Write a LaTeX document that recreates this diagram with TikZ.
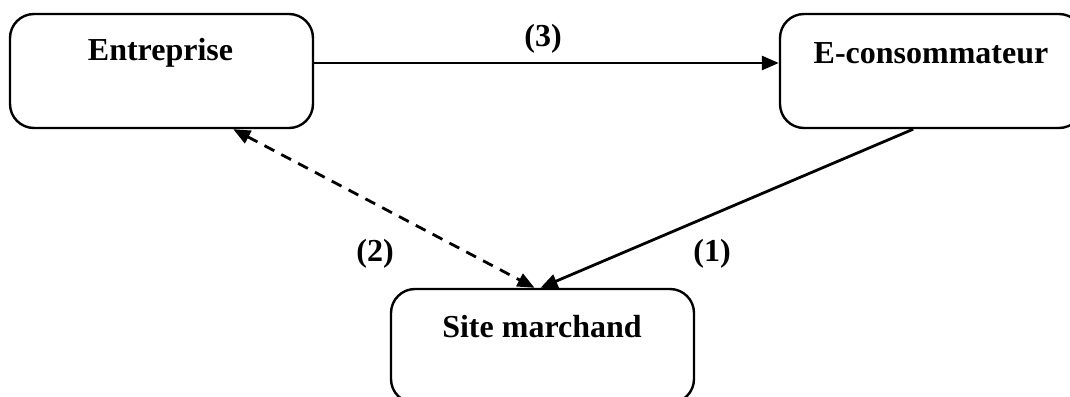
\documentclass[tikz,border=0pt]{standalone}
\usepackage{fontspec}
\setmainfont{Liberation Serif}
\usetikzlibrary{arrows.meta,calc}
\begin{document}
\begin{tikzpicture}[x=1pt,y=-1pt,
  panel/.style={draw,line width=2.4pt,rounded corners=24pt,minimum width=303pt,minimum height=114pt,inner sep=0pt},
  caption/.style={font=\fontsize{32pt}{36pt}\selectfont\bfseries,inner sep=0pt,anchor=center},
  flow/.style={line width=2.8pt,-{Triangle[length=17pt,width=14pt]}},
  tag/.style={font=\fontsize{32pt}{36pt}\selectfont\bfseries,inner sep=0pt}]
  \useasboundingbox (0,0) rectangle (1070,396);
  \clip (0,0) rectangle (1070,396);
  % boxes
  \node[panel] (ent) at (161.5,71) {};
  \node[panel] (econs) at (931.5,71) {};
  \node[panel] (site) at (542.5,346) {};
  % box titles
  \node[caption] (entT) at (160.5,53) {Entreprise};
  \node[caption] (econsT) at (931,53) {E-consommateur};
  \node[caption] (siteT) at (542,327) {Site marchand};
  % connectors
  \draw[flow] ($(ent.east)+(0,-8)$) -- ($(econs.west)+(0,-8)$);
  \draw[flow] ($(econs.south west)!0.44!(econs.south east)$) -- ($(site.north)+(-2,0)$);
  \draw[line width=2.8pt,dash pattern=on 11pt off 8pt,{Triangle[length=17pt,width=14pt]}-{Triangle[length=17pt,width=14pt]}]
    ($(ent.south west)!0.735!(ent.south east)$) -- ($(site.north)+(-8,0)$);
  % connector labels
  \node[tag] (l3) at (543,39) {(3)};
  \node[tag] (l2) at (375,254) {(2)};
  \node[tag] (l1) at (712,254) {(1)};
\end{tikzpicture}
\end{document}
